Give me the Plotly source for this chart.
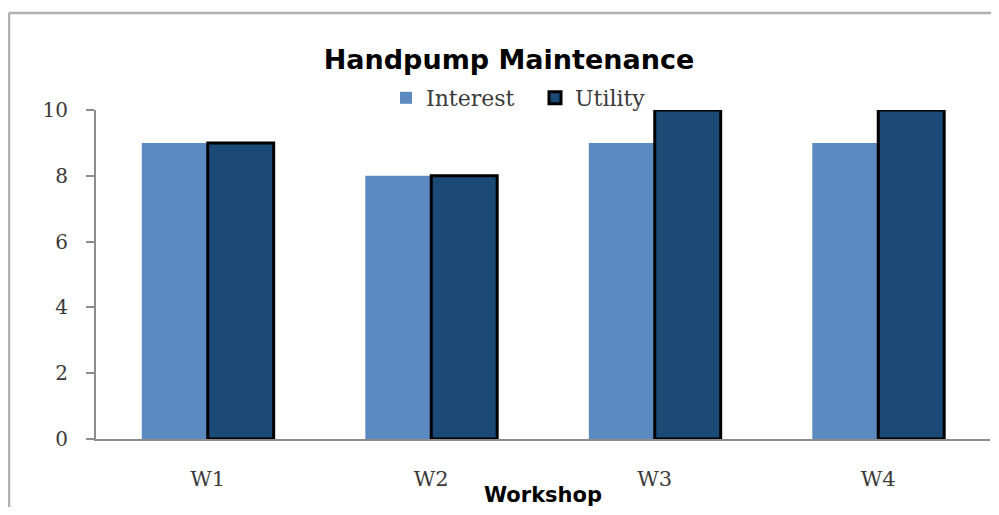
import plotly.graph_objects as go

categories = ["W1", "W2", "W3", "W4"]
interest = [9, 8, 9, 9]
utility = [9, 8, 10, 10]
y_ticks = [0, 2, 4, 6, 8, 10]

INTEREST_COLOR = "#5a8abf"
UTILITY_COLOR = "#1b4a77"
SERIF = "DejaVu Serif"
SANS = "DejaVu Sans"

fig = go.Figure()
fig.add_trace(go.Bar(x=categories, y=interest, name="Interest",
                     marker=dict(color=INTEREST_COLOR, line=dict(width=0))))
fig.add_trace(go.Bar(x=categories, y=utility, name="Utility",
                     marker=dict(color=UTILITY_COLOR, line=dict(color="#000000", width=3))))

# page body has an 8px margin: figure starts at window pixel (8, 8)
OFF = 8
W, H = 999 - OFF, 515 - 2 * OFF
# target window pixels: plot left 96, right 990, top 110, bottom 439
ml = 96 - OFF
mr = W - (990 - OFF)
mt = 110 - OFF
mb = H - (439 - OFF)
pw = W - ml - mr
ph = H - mt - mb

def px2paper_x(px):
    return (px - OFF - ml) / pw

def px2paper_y(py):
    return 1 + (mt - (py - OFF)) / ph

frame_color = "#b0b0b0"
fx0 = px2paper_x(9)
fy1 = px2paper_y(13)

fig.update_layout(
    width=W, height=H,
    margin=dict(l=ml, r=mr, t=mt, b=mb, pad=0, autoexpand=False),
    paper_bgcolor="white", plot_bgcolor="white",
    barmode="group", bargap=0.41, bargroupgap=0,
    title=dict(text="<b>Handpump Maintenance</b>", x=px2paper_x(509), xref="paper",
               xanchor="center", y=1 - (60 - OFF) / H, yref="container", yanchor="middle",
               font=dict(family=SANS, size=27, color="#000000")),
    legend=dict(orientation="h", x=px2paper_x(386), xanchor="left",
                y=px2paper_y(98), yanchor="middle",
                font=dict(family=SERIF, size=22, color="#3a3a3a"),
                itemwidth=30, tracegroupgap=0, bgcolor="rgba(0,0,0,0)",
                entrywidth=104, entrywidthmode="pixels"),
    showlegend=True,
    xaxis=dict(showline=True, linecolor="#8c8c8c", linewidth=2, ticks="",
               showgrid=False, zeroline=False, automargin=False,
               tickfont=dict(family=SERIF, size=21, color="#3a3a3a"),
               ticklabelstandoff=20,
               title=dict(text="<b>Workshop</b>", standoff=13,
                          font=dict(family=SANS, size=21, color="#000000"))),
    yaxis=dict(range=[0, 10], tickvals=y_ticks, showline=True, linecolor="#8c8c8c",
               linewidth=2, ticks="outside", ticklen=8, tickwidth=2, tickcolor="#8c8c8c",
               showgrid=False, zeroline=False, automargin=False,
               tickfont=dict(family=SERIF, size=20, color="#3a3a3a"),
               ticklabelstandoff=14),
    shapes=[
        dict(type="line", xref="paper", yref="paper", x0=fx0, x1=1.3, y0=fy1, y1=fy1,
             line=dict(color=frame_color, width=2.5), layer="below"),
        dict(type="line", xref="paper", yref="paper", x0=fx0, x1=fx0, y0=-0.6, y1=fy1,
             line=dict(color=frame_color, width=2.5), layer="below"),
    ],
)

fig.write_html("out.html")
